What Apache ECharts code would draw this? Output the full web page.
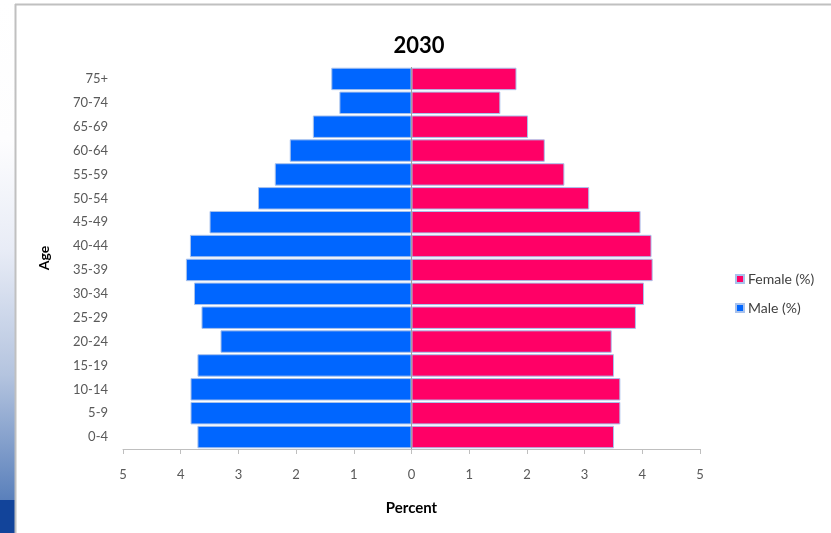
<!DOCTYPE html>
<html>
<head>
<meta charset="utf-8">
<script src="https://cdn.jsdelivr.net/npm/echarts@6/dist/echarts.min.js"></script>
<style>
html,body{margin:0;padding:0;background:#fff;}
#chart{width:831px;height:533px;}
</style>
</head>
<body>
<div id="chart"></div>
<script>
var ageGroups = ['0-4','5-9','10-14','15-19','20-24','25-29','30-34','35-39','40-44','45-49','50-54','55-59','60-64','65-69','70-74','75+'];
var femaleValues = [3.51,3.62,3.62,3.51,3.47,3.89,4.03,4.18,4.16,3.97,3.08,2.65,2.31,2.02,1.54,1.82];
var maleValues = [3.71,3.83,3.83,3.71,3.31,3.64,3.77,3.91,3.84,3.50,2.66,2.37,2.11,1.71,1.25,1.39];
var xTicks = [-5,-4,-3,-2,-1,0,1,2,3,4,5];

var font = 'Lato, "Noto Sans", sans-serif';
var chart = echarts.init(document.getElementById('chart'), null, {renderer:'canvas'});
var option = {
  backgroundColor: '#ffffff',
  animation: false,
  graphic: [
    {type:'rect', left:0, top:0, shape:{width:15, height:500},
     style:{fill:new echarts.graphic.LinearGradient(0,0,0,1,[
       {offset:0,color:'#ffffff'},{offset:0.28,color:'#fdfdfe'},{offset:0.5,color:'#e8ecf6'},
       {offset:0.75,color:'#b4c4df'},{offset:1,color:'#5a80bb'}])}, silent:true, z:-10},
    {type:'rect', left:0, top:500, shape:{width:15, height:33}, style:{fill:'#12449a'}, silent:true, z:-10},
    {type:'line', shape:{x1:15, y1:4.5, x2:831, y2:4.5}, style:{stroke:'#c0c0c0', lineWidth:2}, silent:true},
    {type:'line', shape:{x1:15.5, y1:4, x2:15.5, y2:533}, style:{stroke:'#c0c0c0', lineWidth:2}, silent:true}
  ],
  title: {
    text: '2030', left: 414, top: 30, textAlign: 'center',
    textStyle: {fontFamily: font, fontSize: 22, fontWeight: 'bold', color: '#000'}
  },
  legend: {
    orient: 'vertical', left: 730, top: 267, itemGap: 15,
    itemWidth: 8, itemHeight: 8, icon: 'rect',
    data: ['Female (%)', 'Male (%)'],
    textStyle: {fontFamily: font, fontSize: 14, color: '#404040', padding:[0,0,0,-1]}
  },
  grid: {left: 123, right: 131, top: 67, bottom: 84, containLabel: false},
  xAxis: {
    type: 'value', min: -5, max: 5, interval: 1,
    name: 'Percent', nameLocation: 'middle', nameGap: 52,
    nameTextStyle: {fontFamily: font, fontSize: 15, fontWeight: 'bold', color: '#000'},
    axisLine: {show: true, onZero: false, lineStyle: {color: '#bfbfbf', width: 1}},
    axisTick: {show: true, length: 5, lineStyle: {color: '#bfbfbf'}},
    splitLine: {show: false},
    axisLabel: {fontFamily: font, fontSize: 13, color: '#595959', margin: 19,
      formatter: function (v) { return Math.abs(v); }}
  },
  yAxis: {
    type: 'category', data: ageGroups,
    name: 'Age', nameLocation: 'middle', nameGap: 72, nameRotate: 90,
    nameTextStyle: {fontFamily: font, fontSize: 14, fontWeight: 'bold', color: '#000'},
    axisLine: {show: false}, axisTick: {show: false},
    axisLabel: {fontFamily: font, fontSize: 13, color: '#595959', margin: 15}
  },
  series: [
    {
      name: 'Female (%)', type: 'bar', stack: 'pop', barCategoryGap: '6%',
      data: femaleValues,
      itemStyle: {color: '#ff0066', borderColor: '#a9c2ec', borderWidth: 1},
      markLine: {silent: true, symbol: 'none', label: {show: false},
        lineStyle: {color: '#a0a0a0', type: 'solid', width: 1},
        data: [{xAxis: 0}]}
    },
    {
      name: 'Male (%)', type: 'bar', stack: 'pop', barCategoryGap: '6%',
      data: maleValues.map(function (v) { return -v; }),
      itemStyle: {color: '#0066ff', borderColor: '#a9c2ec', borderWidth: 1}
    }
  ]
};
chart.setOption(option);
</script>
</body>
</html>
